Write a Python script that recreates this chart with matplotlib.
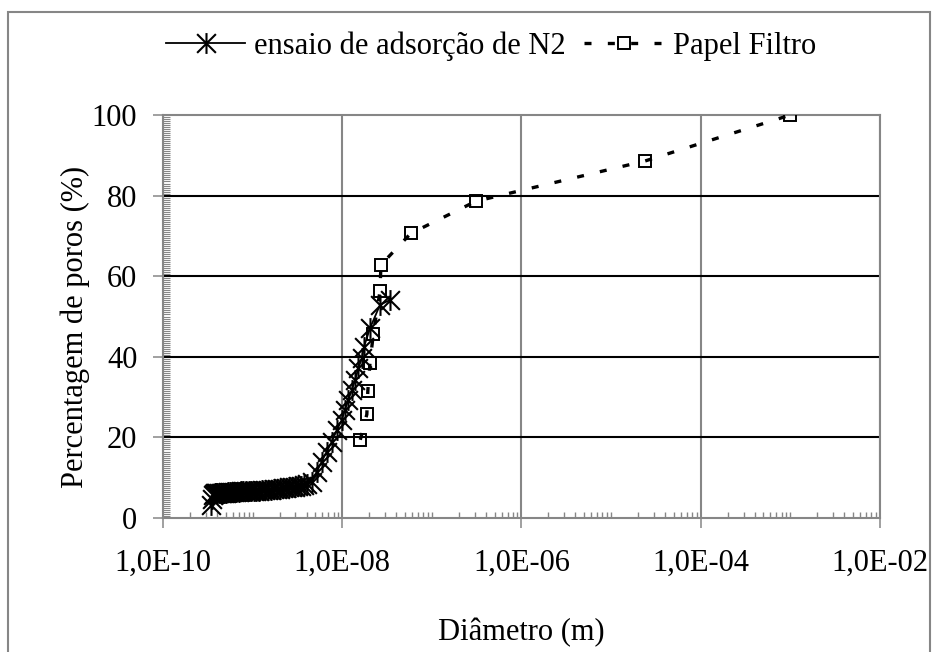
import numpy as np
import matplotlib
matplotlib.use("Agg")
import matplotlib.pyplot as plt
from matplotlib.path import Path
from matplotlib.lines import Line2D
from matplotlib.patches import Rectangle
from matplotlib.ticker import FixedLocator, FixedFormatter, LogLocator, MultipleLocator, NullFormatter

# ---------------- data ----------------
n2_label = "ensaio de adsorção de N2"
n2_diam = [3.4e-10, 3.5e-10, 3.6e-10, 3.7e-10, 3.8e-10, 3.9e-10, 4.0e-10, 4.2e-10,
           4.4e-10, 4.6e-10, 4.8e-10, 5.0e-10, 5.3e-10, 5.6e-10, 5.9e-10, 6.2e-10,
           6.6e-10, 7.0e-10, 7.4e-10, 7.9e-10, 8.4e-10, 9.0e-10, 9.6e-10, 1.03e-9,
           1.10e-9, 1.18e-9, 1.27e-9, 1.37e-9, 1.48e-9, 1.60e-9, 1.73e-9, 1.87e-9,
           2.02e-9, 2.18e-9, 2.36e-9, 2.55e-9, 2.76e-9, 2.98e-9, 3.22e-9, 3.48e-9,
           3.76e-9, 4.06e-9, 4.57e-9, 5.19e-9, 5.90e-9, 6.71e-9, 7.63e-9, 8.69e-9,
           9.87e-9, 1.07e-8, 1.17e-8, 1.28e-8, 1.39e-8, 1.51e-8, 1.65e-8, 1.75e-8,
           2.04e-8, 2.64e-8, 3.41e-8]
n2_pct = [3.2, 4.8, 5.6, 6.0, 6.1, 6.1, 6.2, 6.2,
          6.2, 6.3, 6.3, 6.3, 6.4, 6.4, 6.4, 6.5,
          6.5, 6.5, 6.6, 6.6, 6.6, 6.7, 6.7, 6.7,
          6.8, 6.8, 6.9, 6.9, 7.0, 7.0, 7.1, 7.2,
          7.3, 7.4, 7.5, 7.6, 7.7, 7.8, 7.9, 8.0,
          8.2, 8.4, 9.0, 11.5, 14.0, 16.5, 18.9, 21.8,
          24.3, 26.8, 29.3, 31.8, 34.2, 37.1, 39.6, 42.5,
          47.1, 52.9, 54.1]

pf_label = "Papel Filtro"
pf_diam = [1.59e-8, 1.88e-8, 1.93e-8, 2.04e-8, 2.22e-8, 2.64e-8, 2.70e-8,
           5.8e-8, 3.1e-7, 2.4e-5, 1.0e-3]
pf_pct = [19.4, 25.7, 31.6, 38.5, 45.6, 56.4, 62.8, 70.6, 78.6, 88.6, 100.0]

x_ticks = [1e-10, 1e-8, 1e-6, 1e-4, 1e-2]
x_tick_labels = ["1,0E-10", "1,0E-08", "1,0E-06", "1,0E-04", "1,0E-02"]
y_ticks = [0, 20, 40, 60, 80, 100]
y_tick_labels = ["0", "20", "40", "60", "80", "100"]
x_title = "Diâmetro (m)"
y_title = "Percentagem de poros (%)"

# ---------------- style ----------------
plt.rcParams['font.family'] = ['Liberation Serif', 'DejaVu Serif']
FS = 22
GRAY = '#868686'

W, H = 938, 652
fig = plt.figure(figsize=(W / 100, H / 100), dpi=100)
L, R, T, B = 163, 880, 115, 518
ax = fig.add_axes([L / W, 1 - B / H, (R - L) / W, (B - T) / H])

# asterisk marker: vertical bar + X
ast = Path([(0, -1), (0, 1), (-0.9, -0.9), (0.9, 0.9), (-0.9, 0.9), (0.9, -0.9)],
           [Path.MOVETO, Path.LINETO, Path.MOVETO, Path.LINETO, Path.MOVETO, Path.LINETO])
AST_MS = 15
AST_MEW = 1.5

ax.plot(pf_diam, pf_pct, color='black', lw=2.4, linestyle=(0, (2.1, 4.9)),
        marker='s', ms=8.5, mfc='none', mec='black', mew=1.4, zorder=3)
ax.plot(n2_diam, n2_pct, color='black', lw=1.3, marker=ast, ms=AST_MS,
        mec='black', mew=AST_MEW, zorder=4)

ax.set_xscale('log')
ax.set_xlim(1e-10, 1e-2)
ax.set_ylim(0, 100)

ax.xaxis.set_major_locator(FixedLocator(x_ticks))
ax.xaxis.set_major_formatter(FixedFormatter(x_tick_labels))
ax.xaxis.set_minor_locator(LogLocator(base=10, subs=np.arange(1, 10), numticks=100))
ax.xaxis.set_minor_formatter(NullFormatter())
ax.yaxis.set_major_locator(FixedLocator(y_ticks))
ax.yaxis.set_major_formatter(FixedFormatter(y_tick_labels))
ax.yaxis.set_minor_locator(MultipleLocator(0.5))

ax.tick_params(which='major', direction='out', length=7.5, width=1.1, color=GRAY,
               labelsize=FS, labelcolor='black')
ax.tick_params(axis='x', which='major', pad=15)
ax.tick_params(axis='y', which='major', pad=11)
ax.tick_params(which='minor', direction='in', length=4.5, width=1.0, color=GRAY)
ax.tick_params(axis='y', which='minor', length=5, width=0.8)

# gridlines
ax.grid(axis='x', which='major', color=GRAY, lw=1.5)
for yv in y_ticks[1:-1]:
    ax.axhline(yv, color='black', lw=1.5, zorder=1)
ax.set_axisbelow(True)

for s in ax.spines.values():
    s.set_color(GRAY)
    s.set_linewidth(1.5)

ax.set_xlabel(x_title, fontsize=FS, va='center')
ax.xaxis.set_label_coords(0.5, (B - 633) / (B - T))
ax.set_ylabel(y_title, fontsize=FS, va='center')
ax.yaxis.set_label_coords((75 - L) / (R - L), (B - 327) / (B - T))

# legend
h1 = Line2D([], [], color='black', lw=1.3, marker=ast, ms=AST_MS, mec='black', mew=AST_MEW)
h2 = Line2D([], [], color='black', lw=2.4, linestyle=(0, (2.1, 4.9)), marker='s',
            ms=8.5, mfc='none', mec='black', mew=1.4)
fig.legend([h1, h2], [n2_label, pf_label], loc='center', ncol=2, frameon=False,
           bbox_to_anchor=(491 / W, 1 - 46 / H), fontsize=FS, handlelength=2.6,
           handletextpad=0.3, columnspacing=0.6, borderaxespad=0)

# outer chart border
fig.patches.append(Rectangle((8 / W, -0.05), (930 - 8) / W, (H - 12) / H + 0.05,
                             transform=fig.transFigure, fill=False,
                             edgecolor=GRAY, lw=1.5))

fig.savefig('out.png', dpi=100)
